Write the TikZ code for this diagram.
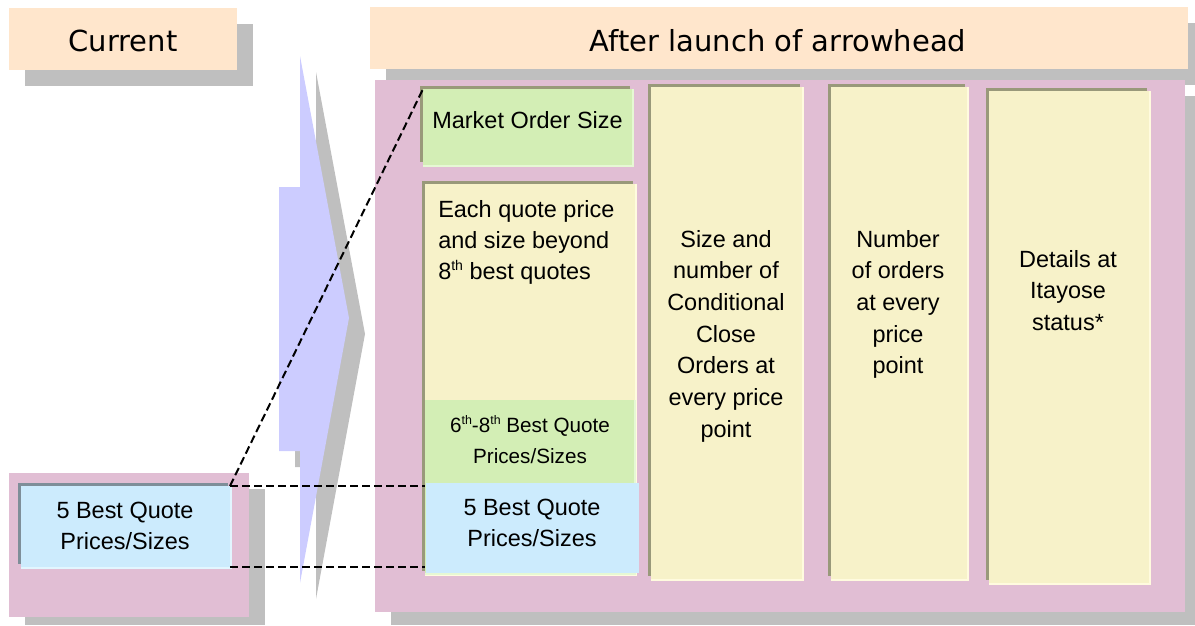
\documentclass[tikz,border=0pt]{standalone}
\usepackage{fontspec}
\setmainfont{Liberation Sans}
\newfontfamily\hdrfont{DejaVu Sans}
\usetikzlibrary{fit}
\definecolor{peach}{HTML}{FFE6CC}
\definecolor{shadowgray}{HTML}{BFBFBF}
\definecolor{mauve}{HTML}{E1BED4}
\definecolor{cream}{HTML}{F7F2C9}
\definecolor{creamlight}{HTML}{FFFBDF}
\definecolor{olivedark}{HTML}{99997A}
\definecolor{mint}{HTML}{D3EEB5}
\definecolor{mintlight}{HTML}{E6F8D4}
\definecolor{skyblue}{HTML}{CCEBFD}
\definecolor{skylight}{HTML}{E2F6FF}
\definecolor{slate}{HTML}{7E8E99}
\definecolor{lavender}{HTML}{CCCCFF}
\newcommand\txtlines[2]{\begin{tabular}[t]{@{}#1@{}}#2\end{tabular}}
\newcommand\supth[1]{\raisebox{0.36em}{\scalebox{0.6}{#1}}}
\newcommand\bevelbox[8]{%
  \fill[#8] (#2,#3) rectangle (#4-4,#5-5);
  \fill[#7] (#2+3,#3+3) rectangle (#4,#5);
  \node[fit={(#2+3,#3+3) (#4-2,#5-2)}, inner sep=0pt, outer sep=0pt, fill=#6] (#1) {};}
\tikzset{
  hdrtext/.style={font=\hdrfont\fontsize{21.75pt}{26pt}\selectfont, anchor=base, inner sep=0pt},
  boxtext/.style={font=\fontsize{17.6pt}{23.3pt}\selectfont, anchor=base, inner sep=0pt},
  coltext/.style={font=\fontsize{17.6pt}{23.8pt}\selectfont, anchor=base, inner sep=0pt},
  smalltext/.style={font=\fontsize{15.5pt}{23.3pt}\selectfont, anchor=base, inner sep=0pt},
  panel/.style={inner sep=0pt, outer sep=0pt},
  dashline/.style={draw=black, line width=1.5pt, dash pattern=on 6pt off 3pt}
}
\begin{document}
\begin{tikzpicture}[x=0.75pt,y=-0.75pt]
\useasboundingbox (0,0) rectangle (1195,625);
% shadows
\fill[shadowgray] (25,24) rectangle (253,86);
\fill[shadowgray] (386,23) rectangle (1195,85);
\fill[shadowgray] (25,489) rectangle (265,625);
\fill[shadowgray] (391,96) rectangle (1195,625);
% headers
\node[panel, fill=peach, fit={(9,8) (237,70)}] (curhdr) {};
\node[panel, fill=peach, fit={(370,7) (1188,69)}] (afthdr) {};
\node[hdrtext] (curtxt) at (123,51) {Current};
\node[hdrtext] (afttxt) at (778,51) {After launch of arrowhead};
% panels
\node[panel, fill=mauve, fit={(9,473) (249,617)}] (leftpanel) {};
\node[panel, fill=mauve, fit={(375,80) (1185,612)}] (mainpanel) {};
% chevron arrow
\fill[shadowgray, shift={(16,16)}] (279,187) -- (300,187) -- (300,56) -- (349,318) -- (300,583) -- (300,451) -- (279,451) -- cycle;
\fill[lavender] (279,187) -- (300,187) -- (300,56) -- (349,318) -- (300,583) -- (300,451) -- (279,451) -- cycle;
% left box
\bevelbox{leftq}{18}{483}{232}{569}{skyblue}{skylight}{slate}
\node[boxtext] (leftqtxt) at (125,518) {\txtlines{c}{5 Best Quote\\Prices/Sizes}};
% market order size
\bevelbox{mos}{420}{86}{634}{167}{mint}{mintlight}{olivedark}
\node[boxtext] (mostxt) at (527.5,128) {Market Order Size};
% each quote
\bevelbox{quote}{422}{181}{637}{576}{cream}{creamlight}{olivedark}
\node[boxtext, anchor=base west] (quotetxt) at (438,217) {\txtlines{l}{Each quote price\\and size beyond\\8\supth{th} best quotes}};
\fill[mintlight] (425,400) rectangle (636,575);
\node[panel, fill=mint, fit={(425,400) (634,573)}] (sixth) {};
\node[smalltext] (sixthtxt) at (530,432) {\txtlines{c}{6\supth{th}-8\supth{th} Best Quote\\Prices/Sizes}};
\node[panel, fill=skyblue, fit={(426,483) (639,573)}] (five) {};
\node[boxtext] (fivetxt) at (532,515) {\txtlines{c}{5 Best Quote\\Prices/Sizes}};
% columns
\bevelbox{colA}{648}{84}{804}{581}{cream}{creamlight}{olivedark}
\node[coltext] (colAtxt) at (726,247) {\txtlines{c}{Size and\\number of\\Conditional\\Close\\Orders at\\every price\\point}};
\bevelbox{colB}{828}{84}{969}{581}{cream}{creamlight}{olivedark}
\node[coltext] (colBtxt) at (898,247) {\txtlines{c}{Number\\of orders\\at every\\price\\point}};
\bevelbox{colC}{986}{88}{1151}{585}{cream}{creamlight}{olivedark}
\node[coltext] (colCtxt) at (1068,267) {\txtlines{c}{Details at\\Itayose\\status*}};
% dashed connectors
\draw[dashline] (leftq.north east) -- (mos.north west);
\draw[dashline] (leftq.north east) -- (leftq.north east -| quote.west);
\draw[dashline] (leftq.south east) -- (leftq.south east -| quote.west);
\end{tikzpicture}
\end{document}
